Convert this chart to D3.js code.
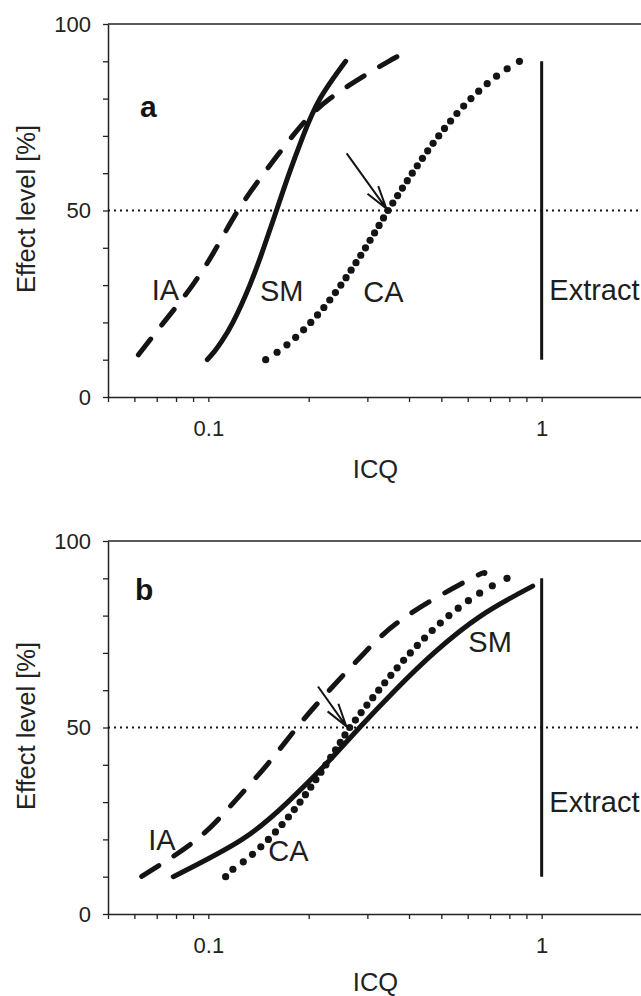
<!DOCTYPE html>
<html><head><meta charset="utf-8">
<script src="https://cdn.jsdelivr.net/npm/d3@7"></script>
<style>
html,body{margin:0;padding:0;background:#fff;}
svg{display:block;}
text{font-family:"Liberation Sans", Arial, Helvetica, sans-serif;}
</style></head><body>
<svg id="chart" width="641" height="996"></svg>
<script>
// ---------------- DATA ----------------
const xTickValues = [0.05,0.06,0.07,0.08,0.09,0.1,0.2,0.3,0.4,0.5,0.6,0.7,0.8,0.9,1];
const xTickLabels = {"0.1":"0.1","1":"1"};
const yTickValues = [0,10,20,30,40,50,60,70,80,90,100];
const yTickLabels = [0,50,100];
const thresholdEffect = 50;
const extractICQ = 1;
const extractEffectRange = [10, 90];

// effect levels of the CA dots
const caEffect = [10,12,14,16,18,20,22,24,26,28,30,32,34,36,38,40,42,44,46,48,50,
                  52,54,56,58,60,62,64,66,68,70,72,74,76,78,80,82,84,86,88,90];

// panel a: [ICQ, effect %]
const panelA_IA = [[0.0617,11.3],[0.0735,20],[0.0897,30],[0.1057,40],[0.1227,50],[0.1469,60],[0.1791,70],[0.2317,80],[0.3475,90],[0.3954,92.4]];
const panelA_SM = [[0.0993,10],[0.1049,12.5],[0.1098,15],[0.1185,20],[0.1332,30],[0.1466,40],[0.1601,50],[0.1749,60],[0.1925,70],[0.2164,80],[0.2582,90]];
const panelA_CA_icq = [0.1486,0.1608,0.1721,0.1828,0.1931,0.2029,0.2126,0.2221,0.2314,0.2406,0.2498,0.2589,0.2681,0.2773,0.2866,0.2961,0.3056,0.3153,0.3252,0.3354,0.3459,
                       0.3576,0.3697,0.3822,0.3953,0.4091,0.4235,0.4388,0.4550,0.4724,0.4911,0.5111,0.5330,0.5569,0.5835,0.6135,0.6473,0.6864,0.7323,0.7879,0.8577];
const panelA_arrow = {from:[0.26,65.3], to:[0.342,50.5]};

// panel b: [ICQ, effect %]
const panelB_IA = [[0.0631,10.1],[0.0923,20],[0.1194,30],[0.1500,40],[0.1845,50],[0.2307,60],[0.2938,70],[0.3954,80],[0.6166,90],[0.6745,91.3]];
const panelB_SM = [[0.0785,10],[0.1263,20],[0.1731,30],[0.2243,40],[0.2844,50],[0.3636,60],[0.4753,70],[0.6588,80],[0.9400,87.9]];
const panelB_CA_icq = [0.1127,0.1185,0.1273,0.1357,0.1437,0.1514,0.1590,0.1664,0.1739,0.1811,0.1884,0.1956,0.2029,0.2102,0.2177,0.2253,0.2329,0.2408,0.2488,0.2570,0.2655,
                       0.2762,0.2873,0.2990,0.3114,0.3244,0.3382,0.3528,0.3685,0.3853,0.4036,0.4236,0.4454,0.4695,0.4966,0.5270,0.5619,0.6029,0.6515,0.7112,0.7870];
const panelB_arrow = {from:[0.2133,61], to:[0.2594,50.3]};

// ---------------- LAYOUT ----------------
const FONT = '"Liberation Sans", Arial, Helvetica, sans-serif';
const INK = "#141414";
const svg = d3.select("#chart");

const panels = [
  {top:24, bottom:397, letter:"a", IA:panelA_IA, SM:panelA_SM, CA:panelA_CA_icq, arrow:panelA_arrow,
   labels:[{t:"IA",x:151.7,dy:276},{t:"SM",x:260,dy:277},{t:"CA",x:363.3,dy:277.7},{t:"Extract",x:549.3,dy:276}],
   letterPos:{x:140,dy:92.7}, icqDy:454},
  {top:541, bottom:914, letter:"b", IA:panelB_IA, SM:panelB_SM, CA:panelB_CA_icq, arrow:panelB_arrow,
   labels:[{t:"IA",x:148.3,dy:309},{t:"CA",x:268.3,dy:320},{t:"SM",x:468.3,dy:110.7},{t:"Extract",x:549.3,dy:271.3}],
   letterPos:{x:135,dy:59}, icqDy:450}
];

const left = 108, right = 642;

panels.forEach(p => {
  const g = svg.append("g");
  const x = d3.scaleLog().domain([0.05, 2]).range([left, right]);
  const y = d3.scaleLinear().domain([0, 100]).range([p.bottom, p.top]);

  // top frame line
  g.append("line").attr("x1", left).attr("x2", right).attr("y1", p.top).attr("y2", p.top)
    .attr("stroke", "#222").attr("stroke-width", 1.5);

  // y axis
  const ya = g.append("g").attr("transform", `translate(${left},0)`)
    .call(d3.axisLeft(y).tickValues(yTickValues).tickSize(5).tickSizeOuter(0).tickPadding(12)
      .tickFormat(d => yTickLabels.includes(d) ? d : ""))
    .attr("font-size", 22).attr("font-family", FONT).attr("color", "#222");
  ya.select(".domain").attr("stroke-width", 1.5);
  ya.selectAll(".tick line").attr("stroke-width", 1.3);

  // x axis
  const xa = g.append("g").attr("transform", `translate(0,${p.bottom})`)
    .call(d3.axisBottom(x).tickValues(xTickValues).tickSize(5).tickSizeOuter(0).tickPadding(18)
      .tickFormat(d => xTickLabels[String(d)] || ""))
    .attr("font-size", 22).attr("font-family", FONT).attr("color", "#222");
  xa.select(".domain").attr("stroke-width", 1.5);
  xa.selectAll(".tick line").attr("stroke-width", 1.3);

  // axis titles
  g.append("text").attr("x", 375.5).attr("y", p.top + p.icqDy).attr("text-anchor", "middle")
    .attr("font-size", 25.5).attr("fill", "#222").text("ICQ");
  g.append("text").attr("transform", `translate(35,${p.top + 185}) rotate(-90)`)
    .attr("text-anchor", "middle").attr("font-size", 25.5).attr("fill", "#222").text("Effect level [%]");

  // 50 % threshold dotted line
  g.append("line").attr("x1", left).attr("x2", right)
    .attr("y1", y(thresholdEffect)).attr("y2", y(thresholdEffect))
    .attr("stroke", INK).attr("stroke-width", 2).attr("stroke-dasharray", "2,4");

  // Extract vertical line
  g.append("line").attr("x1", x(extractICQ)).attr("x2", x(extractICQ))
    .attr("y1", y(extractEffectRange[0])).attr("y2", y(extractEffectRange[1]))
    .attr("stroke", INK).attr("stroke-width", 3);

  const line = d3.line().x(d => x(d[0])).y(d => y(d[1])).curve(d3.curveNatural);

  // IA dashed
  g.append("path").attr("d", line(p.IA)).attr("fill", "none").attr("stroke", INK)
    .attr("stroke-width", 5).attr("stroke-linecap", "round").attr("stroke-dasharray", "20,18");

  // SM solid
  g.append("path").attr("d", line(p.SM)).attr("fill", "none").attr("stroke", INK)
    .attr("stroke-width", 5).attr("stroke-linecap", "round");

  // CA dots
  g.selectAll("circle.ca").data(p.CA).join("circle").attr("class", "ca")
    .attr("cx", d => x(d)).attr("cy", (d, i) => y(caEffect[i])).attr("r", 3.6).attr("fill", INK);

  // arrow
  const x0 = x(p.arrow.from[0]), y0 = y(p.arrow.from[1]);
  const x1 = x(p.arrow.to[0]), y1 = y(p.arrow.to[1]);
  const ang = Math.atan2(y1 - y0, x1 - x0), len = 24, sp = 16 * Math.PI / 180;
  const path = d3.path();
  path.moveTo(x0, y0); path.lineTo(x1, y1);
  path.moveTo(x1 - len * Math.cos(ang - sp), y1 - len * Math.sin(ang - sp));
  path.lineTo(x1, y1);
  path.lineTo(x1 - len * Math.cos(ang + sp), y1 - len * Math.sin(ang + sp));
  g.append("path").attr("d", path.toString()).attr("fill", "none").attr("stroke", INK)
    .attr("stroke-width", 2).attr("stroke-linejoin", "miter");

  // curve labels
  p.labels.forEach(l => {
    g.append("text").attr("x", l.x).attr("y", p.top + l.dy).attr("font-size", 29)
      .attr("fill", "#1e1e1e").text(l.t);
  });
  g.append("text").attr("x", p.letterPos.x).attr("y", p.top + p.letterPos.dy)
    .attr("font-size", 30).attr("font-weight", "bold").attr("fill", INK).text(p.letter);
});
</script>
</body></html>
